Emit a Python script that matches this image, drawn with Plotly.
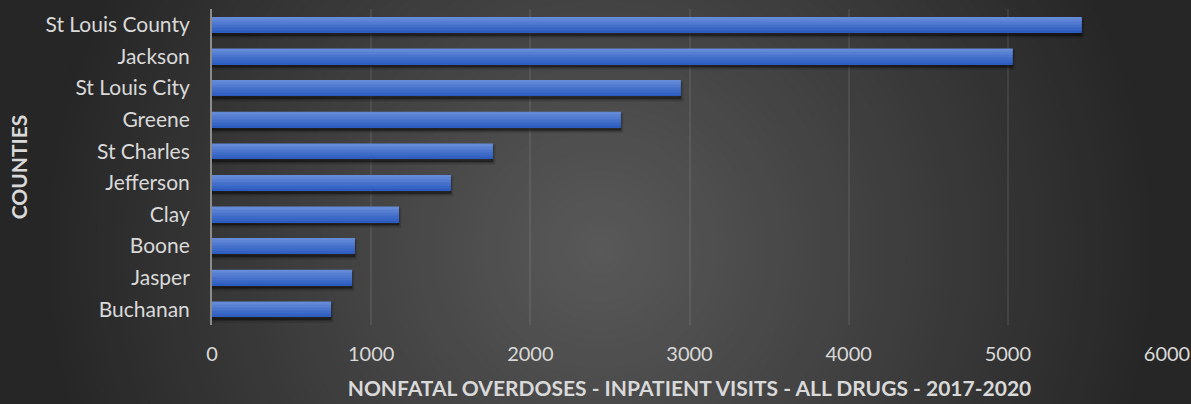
import numpy as np
import plotly.graph_objects as go

counties = ["St Louis County", "Jackson", "St Louis City", "Greene", "St Charles",
            "Jefferson", "Clay", "Boone", "Jasper", "Buchanan"]
visits = [5465, 5031, 2946, 2569, 1765, 1501, 1175, 898, 880, 748]
x_ticks = [0, 1000, 2000, 3000, 4000, 5000, 6000]
x_title = "NONFATAL OVERDOSES - INPATIENT VISITS - ALL DRUGS - 2017-2020"
y_title = "COUNTIES"

# display order bottom -> top
cat_order = counties[::-1]

W, H = 1191, 404
ML, MR, MT, MB = 212, 24, 9, 79
PW, PH = W - ML - MR, H - MT - MB

FONT = "Lato"
TXT = "#d9d9d9"

fig = go.Figure()

BAR_W = 0.49
# soft shadow layers
for alpha, lw, dy in [(0.10, 5, 0.11), (0.16, 2.5, 0.10), (0.22, 0, 0.09)]:
    fig.add_trace(go.Bar(
        y=counties, x=visits, orientation="h",
        offset=-BAR_W / 2 - dy, width=BAR_W,
        marker=dict(color=f"rgba(0,0,0,{alpha})",
                    line=dict(color=f"rgba(0,0,0,{alpha})", width=lw)),
        hoverinfo="skip", showlegend=False))

# gradient strips for bars (bottom -> top)
n_strips = 10
c_bot = np.array([0x2c, 0x5c, 0xc0])
c_top = np.array([0x64, 0x8a, 0xd8])
for i in range(n_strips):
    t = i / (n_strips - 1)
    c = (c_bot * (1 - t) + c_top * t).astype(int)
    fig.add_trace(go.Bar(
        y=counties, x=visits, orientation="h",
        offset=-BAR_W / 2 + i * BAR_W / n_strips, width=BAR_W / n_strips * 1.05,
        marker=dict(color=f"rgb({c[0]},{c[1]},{c[2]})", line=dict(width=0)),
        hovertemplate="%{y}: %{x}<extra></extra>", showlegend=False))

# radial gradient background via concentric opaque circles
cx_px, cy_px = 600, 250
xa = (cx_px - ML) / PW
ya = (H - MB - cy_px) / PH
base = 38.0
center = 89.0
rmax = 560.0
radii = np.linspace(rmax, 6, 60)
step = radii[0] - radii[1]
shapes = []
for r in radii:
    rm = max(r - step / 2, 0)
    v = int(round(center - (center - base) * rm / rmax))
    shapes.append(dict(type="circle", xref="paper", yref="paper",
                       xsizemode="pixel", ysizemode="pixel",
                       xanchor=xa, yanchor=ya,
                       x0=-r, x1=r, y0=-r, y1=r,
                       fillcolor=f"rgb({v},{v},{v})",
                       line=dict(width=0), layer="below"))

fig.update_layout(
    width=W, height=H,
    margin=dict(l=ML, r=MR, t=MT, b=MB, pad=0, autoexpand=False),
    paper_bgcolor="#262626",
    plot_bgcolor="rgba(0,0,0,0)",
    barmode="overlay",
    shapes=shapes,
    font=dict(family=FONT, color=TXT, size=21),
    xaxis=dict(
        range=[0, 6000], tickvals=x_ticks, ticktext=[str(v) for v in x_ticks],
        showgrid=True, gridcolor="rgba(255,255,255,0.08)", gridwidth=2,
        zeroline=False, showline=False, automargin=False,
        ticks="outside", ticklen=11, tickcolor="rgba(0,0,0,0)",
        ticklabeloverflow="allow",
        tickfont=dict(family=FONT, size=20, color=TXT),
        title=dict(text=x_title, font=dict(family=FONT, size=21, color=TXT,
                                           weight="bold"), standoff=17),
        fixedrange=True,
    ),
    yaxis=dict(
        type="category", categoryorder="array", categoryarray=cat_order,
        range=[-0.5, len(counties) - 0.5],
        showgrid=False, zeroline=False, automargin=False,
        showline=True, linecolor="#8c8c8c", linewidth=2,
        ticks="outside", ticklen=16, tickcolor="rgba(0,0,0,0)",
        tickfont=dict(family=FONT, size=21, color=TXT),
        title=dict(text=y_title, font=dict(family=FONT, size=21, color=TXT,
                                           weight="bold"), standoff=12),
        fixedrange=True,
    ),
)

fig.write_html("out.html", config={"displayModeBar": False})
